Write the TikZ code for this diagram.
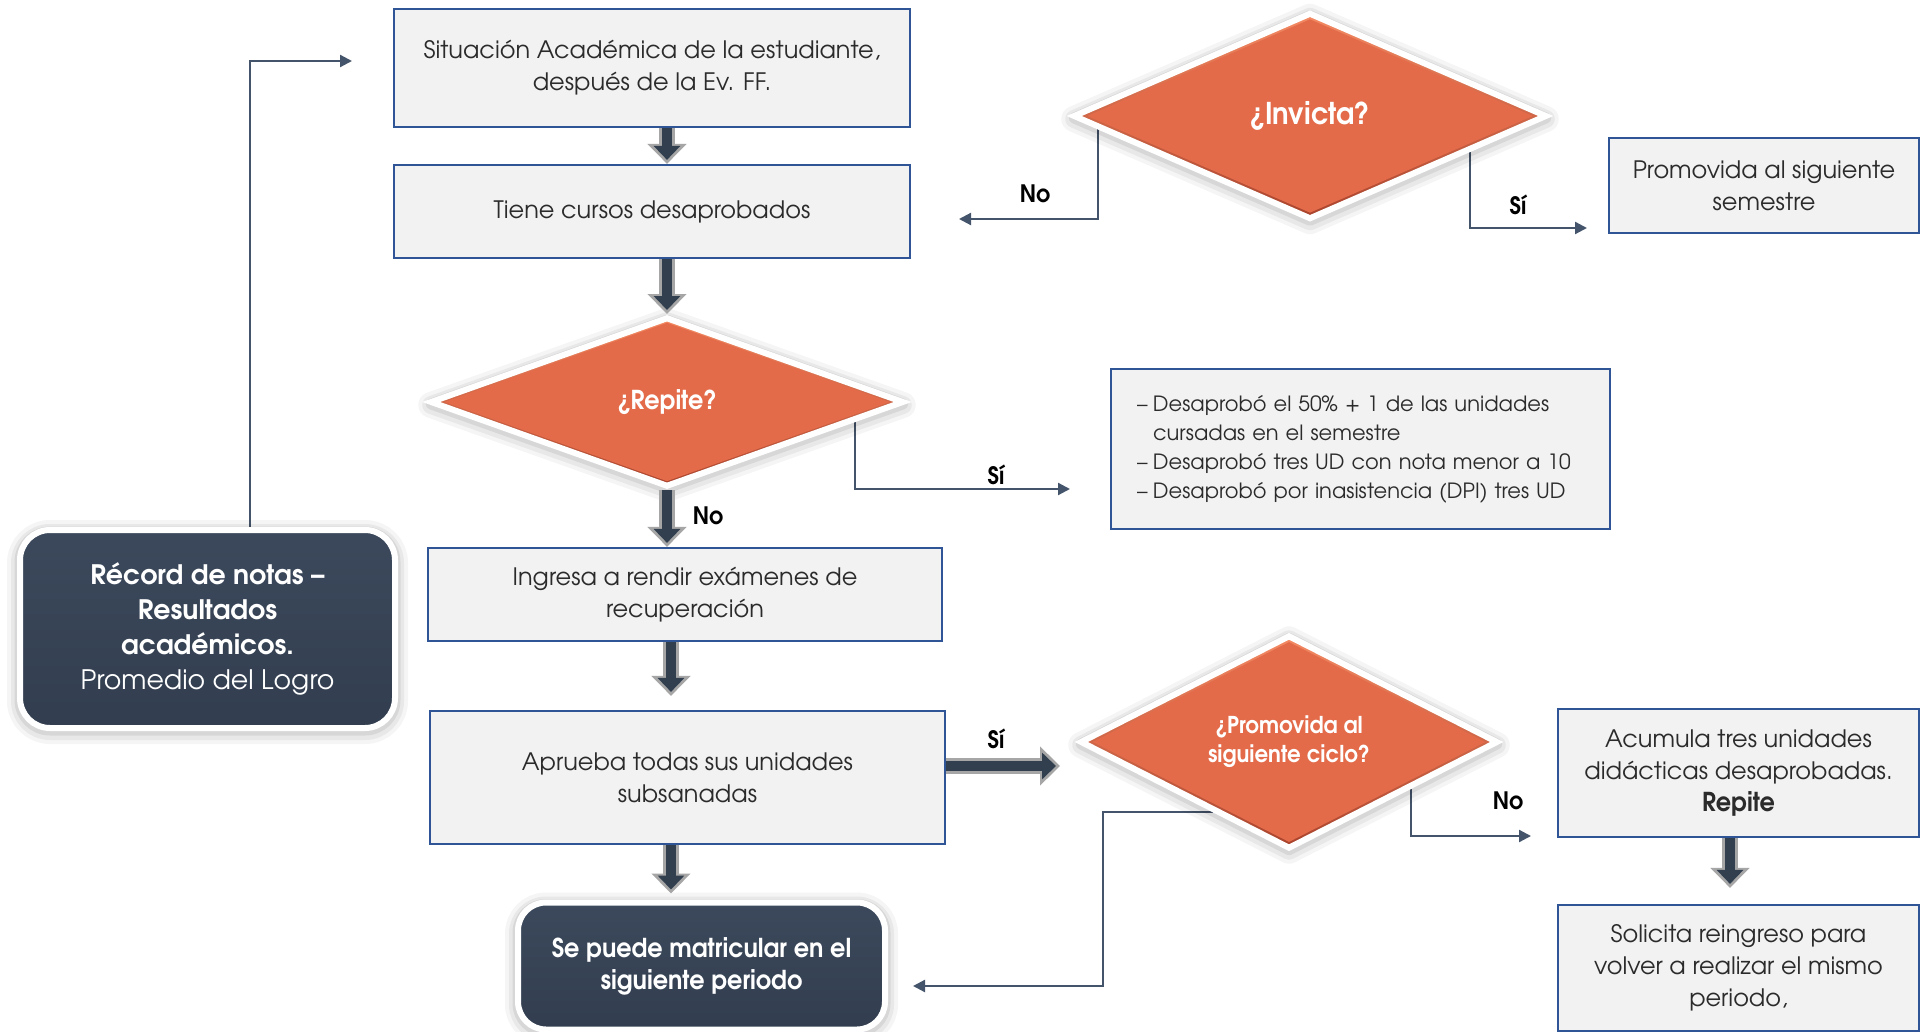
\documentclass[tikz,border=0pt]{standalone}
\usepackage{fontspec}
\setmainfont{texgyreadventor}[Extension=.otf, UprightFont=*-regular, BoldFont=*-bold, ItalicFont=*-italic, BoldItalicFont=*-bolditalic]
\newfontfamily\condfont{texgyreadventor}[Extension=.otf, UprightFont=*-regular, BoldFont=*-bold, ItalicFont=*-italic, BoldItalicFont=*-bolditalic, FakeStretch=0.92]
\usetikzlibrary{shapes.geometric,arrows.meta,calc}

\definecolor{boxfill}{HTML}{F2F2F2}
\definecolor{boxline}{HTML}{2F5597}
\definecolor{conn}{HTML}{44546A}
\definecolor{diafill}{HTML}{E36B4A}
\definecolor{dialight}{HTML}{F48A63}
\definecolor{diadark}{HTML}{A9432C}
\definecolor{navy}{HTML}{323F4F}
\definecolor{agrey}{HTML}{A6A6A6}
\definecolor{dark}{HTML}{3A475A}
\definecolor{darktop}{HTML}{3C495C}
\definecolor{darkbot}{HTML}{323E4F}
\definecolor{txt}{HTML}{2B2B2B}

\pgfdeclarelayer{back}
\pgfdeclarelayer{behind}
\pgfsetlayers{back,behind,main}

% two-tone block arrow: grey outline with a navy core
\newcommand\blockarrow[3][0]{%
  \draw[barrowout, shorten >=#1pt] #2 -- #3;
  \draw[barrowin, shorten >=#1pt+2pt] #2 -- #3;}

\tikzset{
  glow/.style={
    preaction={draw=black, draw opacity=0.04, line width=13pt, line join=round,
      transform canvas={yshift=-1.5pt}},
    preaction={draw=black, draw opacity=0.05, line width=9pt, line join=round,
      transform canvas={yshift=-1.5pt}},
    preaction={draw=black, draw opacity=0.07, line width=5.5pt, line join=round,
      transform canvas={yshift=-1pt}}},
  bevel/.style={path picture={
    \coordinate (pc) at (path picture bounding box.center);
    \fill[diafill] ($(pc)!#1!(path picture bounding box.west)$)
      -- ($(pc)!#1!(path picture bounding box.north)$)
      -- ($(pc)!#1!(path picture bounding box.east)$)
      -- ($(pc)!#1!(path picture bounding box.south)$) -- cycle;}},
  procbox/.style={draw=boxline, fill=boxfill, line width=1.1pt, text=txt,
    align=center, inner sep=0pt, font=\fontsize{12}{16}\selectfont},
  decision/.style={diamond, draw=white, line width=3pt,
    top color=dialight, bottom color=diadark, bevel=0.945, glow,
    inner sep=0pt, text=white, align=center,
    font=\condfont\bfseries\fontsize{13}{14.5}\selectfont},
  terminal/.style={rounded corners=14pt, draw=white, line width=3pt,
    top color=darktop, bottom color=darkbot, glow,
    text=white, align=center, inner sep=0pt},
  link/.style={draw=conn, line width=1.1pt, -{Triangle[length=6pt,width=6pt]}},
  tag/.style={font=\condfont\bfseries\fontsize{12}{15}\selectfont, text=black},
  barrowout/.style={draw=agrey, line width=8pt, -{Triangle[length=10pt,width=19pt]}},
  barrowin/.style={draw=navy, line width=5pt, -{Triangle[length=7pt,width=13pt]}},
}

\begin{document}
\begin{tikzpicture}[x=0.5pt,y=-0.5pt]
\begin{pgfonlayer}{back}
  \fill[white] (0,0) rectangle (1921,1032);
\end{pgfonlayer}
\useasboundingbox (0,0) rectangle (1921,1032);

% main column
\node[procbox, minimum width=258pt, minimum height=59pt] (sit) at (652,68)
  {Situación Académica de la estudiante,\\ después de la Ev. FF.};
\node[procbox, minimum width=258pt, minimum height=46.5pt] (tiene) at (652,211.5)
  {Tiene cursos desaprobados};
\node[decision, minimum width=237pt, minimum height=85pt] (rep) at (667,402)
  {¿Repite?};
\node[procbox, minimum width=257pt, minimum height=46.5pt] (ingresa) at (685,594.5)
  {Ingresa a rendir exámenes de\\ recuperación};
\node[procbox, minimum width=257.5pt, minimum height=66.5pt] (aprueba) at (687.5,777.5)
  {Aprueba todas sus unidades\\ subsanadas};
\node[terminal, minimum width=183.5pt, minimum height=63.5pt,
  font=\condfont\bfseries\fontsize{13}{16}\selectfont] (matric) at (701.5,966)
  {Se puede matricular en el\\ siguiente periodo};

% left terminal
\node[terminal, rounded corners=15pt, minimum width=187.5pt, minimum height=99pt,
  font=\fontsize{13.4}{17.5}\selectfont] (record) at (207.5,629)
  {\textbf{Récord de notas –}\\ \textbf{Resultados}\\ \textbf{académicos.}\\ Promedio del Logro};

% right side
\node[decision, minimum width=237pt, minimum height=103.5pt,
  font=\condfont\bfseries\fontsize{15}{16}\selectfont] (inv) at (1310,116)
  {¿Invicta?};
\node[procbox, minimum width=155pt, minimum height=47.5pt] (promsem) at (1764,185.5)
  {Promovida al siguiente\\ semestre};
\node[procbox, minimum width=249.5pt, minimum height=80pt, text width=223.5pt,
  align=left, font=\fontsize{10.5}{14.5}\selectfont] (causas) at (1360.5,449)
  {\makebox[8pt][l]{–}Desaprobó el 50\% + 1 de las unidades\\
   \hspace*{8pt}cursadas en el semestre\\
   \makebox[8pt][l]{–}Desaprobó tres UD con nota menor a 10\\
   \makebox[8pt][l]{–}Desaprobó por inasistencia (DPI) tres UD};
\node[decision, minimum width=209pt, minimum height=99.5pt,
  font=\condfont\bfseries\fontsize{11.6}{14.5}\selectfont] (promc) at (1289,742)
  {¿Promovida al\\ siguiente ciclo?};
\node[procbox, minimum width=180.5pt, minimum height=64pt] (acum) at (1738.5,773)
  {Acumula tres unidades\\ didácticas desaprobadas.\\ {\condfont\bfseries\fontsize{13}{16}\selectfont Repite}};
\node[procbox, minimum width=180.5pt, minimum height=63pt] (solic) at (1738.5,968)
  {Solicita reingreso para\\ volver a realizar el mismo\\ periodo,};

% free ends of connectors
\coordinate (invNo) at (959,219);
\coordinate (invSi) at (1587,228);
\coordinate (repSi) at (1070,489);
\coordinate (turn) at (1103,986);
\coordinate (matricIn) at (913,986);
\coordinate (promNo) at (1531,836);
\coordinate (recIn) at (352,61);
\coordinate (siTip) at (1060,766);
\coordinate (spine) at (671,0);
\coordinate (acumAx) at (1730,0);

\begin{pgfonlayer}{behind}
  \draw[link] ($(inv.west)!0.117!(inv.south)$) |- (invNo);
  \draw[link] ($(inv.east)!0.333!(inv.south)$) |- (invSi);
  \draw[link] ($(rep.east)!0.217!(rep.south)$) |- (repSi);
  \draw[link] ($(promc.west)!0.64!(promc.south)$) -| (turn) -- (matricIn);
  \draw[link] ($(promc.east)!0.425!(promc.south)$) |- (promNo);
  \draw[link] ($(record.north)+(42.5,0)$) |- (recIn);
\end{pgfonlayer}

% block arrows
\blockarrow{(sit.south -| rep.center)}{(tiene.north -| rep.center)}
\blockarrow{(tiene.south -| rep.center)}{(rep.north)}
\blockarrow{(rep.south)}{(ingresa.north -| rep.center)}
\blockarrow[7]{(ingresa.south -| spine)}{(aprueba.north -| spine)}
\blockarrow[3]{(aprueba.south -| spine)}{(matric.north -| spine)}
\blockarrow{(aprueba.east |- siTip)}{(siTip)}
\blockarrow[8]{(acum.south -| acumAx)}{(solic.north -| acumAx)}

% branch labels
\node[tag] (lInvNo) at (1035,194) {No};
\node[tag] (lInvSi) at (1518,205) {Sí};
\node[tag] (lRepSi) at (996,475) {Sí};
\node[tag] (lRepNo) at (708,516) {No};
\node[tag] (lAprSi) at (996,739) {Sí};
\node[tag] (lPromNo) at (1508,801) {No};
\end{tikzpicture}
\end{document}
